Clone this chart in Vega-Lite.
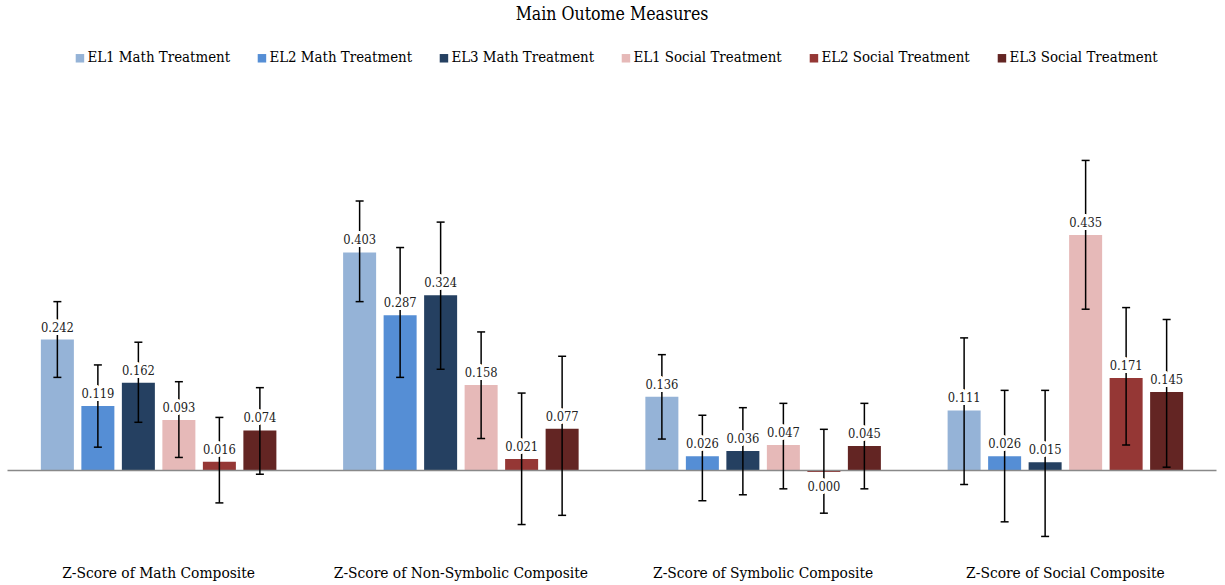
{
  "$schema": "https://vega.github.io/schema/vega-lite/v6.json",
  "width": 1209,
  "height": 422,
  "autosize": {"type": "none"},
  "padding": {"left": 7.5, "top": 135, "right": 8.5, "bottom": 28},
  "background": "white",
  "title": {"text": "Main Outome Measures", "font": "DejaVu Serif Condensed", "fontSize": 17.6, "fontWeight": "normal", "color": "#000", "anchor": "middle", "offset": 27},
  "config": {"view": {"stroke": null}},
  "data": {"values": [
    {"measure": "Z-Score of Math Composite", "series": "EL1 Math Treatment", "value": 0.242, "lo": 0.172, "hi": 0.312, "label": "0.242"},
    {"measure": "Z-Score of Math Composite", "series": "EL2 Math Treatment", "value": 0.119, "lo": 0.043, "hi": 0.195, "label": "0.119"},
    {"measure": "Z-Score of Math Composite", "series": "EL3 Math Treatment", "value": 0.162, "lo": 0.089, "hi": 0.237, "label": "0.162"},
    {"measure": "Z-Score of Math Composite", "series": "EL1 Social Treatment", "value": 0.093, "lo": 0.024, "hi": 0.164, "label": "0.093"},
    {"measure": "Z-Score of Math Composite", "series": "EL2 Social Treatment", "value": 0.016, "lo": -0.060, "hi": 0.098, "label": "0.016"},
    {"measure": "Z-Score of Math Composite", "series": "EL3 Social Treatment", "value": 0.074, "lo": -0.007, "hi": 0.153, "label": "0.074"},
    {"measure": "Z-Score of Non-Symbolic Composite", "series": "EL1 Math Treatment", "value": 0.403, "lo": 0.312, "hi": 0.498, "label": "0.403"},
    {"measure": "Z-Score of Non-Symbolic Composite", "series": "EL2 Math Treatment", "value": 0.287, "lo": 0.172, "hi": 0.412, "label": "0.287"},
    {"measure": "Z-Score of Non-Symbolic Composite", "series": "EL3 Math Treatment", "value": 0.324, "lo": 0.187, "hi": 0.459, "label": "0.324"},
    {"measure": "Z-Score of Non-Symbolic Composite", "series": "EL1 Social Treatment", "value": 0.158, "lo": 0.059, "hi": 0.256, "label": "0.158"},
    {"measure": "Z-Score of Non-Symbolic Composite", "series": "EL2 Social Treatment", "value": 0.021, "lo": -0.100, "hi": 0.143, "label": "0.021"},
    {"measure": "Z-Score of Non-Symbolic Composite", "series": "EL3 Social Treatment", "value": 0.077, "lo": -0.083, "hi": 0.211, "label": "0.077"},
    {"measure": "Z-Score of Symbolic Composite", "series": "EL1 Math Treatment", "value": 0.136, "lo": 0.058, "hi": 0.214, "label": "0.136"},
    {"measure": "Z-Score of Symbolic Composite", "series": "EL2 Math Treatment", "value": 0.026, "lo": -0.056, "hi": 0.102, "label": "0.026"},
    {"measure": "Z-Score of Symbolic Composite", "series": "EL3 Math Treatment", "value": 0.036, "lo": -0.045, "hi": 0.116, "label": "0.036"},
    {"measure": "Z-Score of Symbolic Composite", "series": "EL1 Social Treatment", "value": 0.047, "lo": -0.034, "hi": 0.124, "label": "0.047"},
    {"measure": "Z-Score of Symbolic Composite", "series": "EL2 Social Treatment", "value": -0.003, "lo": -0.079, "hi": 0.076, "label": "0.000"},
    {"measure": "Z-Score of Symbolic Composite", "series": "EL3 Social Treatment", "value": 0.045, "lo": -0.034, "hi": 0.124, "label": "0.045"},
    {"measure": "Z-Score of Social Composite", "series": "EL1 Math Treatment", "value": 0.111, "lo": -0.026, "hi": 0.245, "label": "0.111"},
    {"measure": "Z-Score of Social Composite", "series": "EL2 Math Treatment", "value": 0.026, "lo": -0.095, "hi": 0.148, "label": "0.026"},
    {"measure": "Z-Score of Social Composite", "series": "EL3 Math Treatment", "value": 0.015, "lo": -0.122, "hi": 0.148, "label": "0.015"},
    {"measure": "Z-Score of Social Composite", "series": "EL1 Social Treatment", "value": 0.435, "lo": 0.298, "hi": 0.573, "label": "0.435"},
    {"measure": "Z-Score of Social Composite", "series": "EL2 Social Treatment", "value": 0.171, "lo": 0.047, "hi": 0.301, "label": "0.171"},
    {"measure": "Z-Score of Social Composite", "series": "EL3 Social Treatment", "value": 0.145, "lo": 0.006, "hi": 0.279, "label": "0.145"}
  ]},
  "layer": [
    {
      "mark": {"type": "bar"},
      "encoding": {
        "x": {"field": "measure", "type": "nominal", "sort": ["Z-Score of Math Composite", "Z-Score of Non-Symbolic Composite", "Z-Score of Symbolic Composite", "Z-Score of Social Composite"],
              "scale": {"paddingInner": 0.196, "paddingOuter": 0.098},
              "axis": {"title": null, "domain": false, "ticks": false, "tickSize": 0, "labelAngle": 0, "labelPadding": 8, "labelFont": "DejaVu Serif Condensed", "labelFontSize": 15.4, "labelColor": "#000", "labelLimit": 0}},
        "xOffset": {"field": "series", "type": "nominal", "sort": ["EL1 Math Treatment", "EL2 Math Treatment", "EL3 Math Treatment", "EL1 Social Treatment", "EL2 Social Treatment", "EL3 Social Treatment"],
              "scale": {"paddingInner": 0.185, "paddingOuter": 0.0925}},
        "y": {"field": "value", "type": "quantitative", "scale": {"domain": [-0.16, 0.62], "nice": false, "zero": false}, "axis": null},
        "color": {"field": "series", "type": "nominal",
          "scale": {"domain": ["EL1 Math Treatment", "EL2 Math Treatment", "EL3 Math Treatment", "EL1 Social Treatment", "EL2 Social Treatment", "EL3 Social Treatment"],
                    "range": ["#95B3D7", "#558ED5", "#254061", "#E6B9B8", "#953735", "#632523"]},
          "legend": {"orient": "none", "legendX": 65, "legendY": -84.5, "direction": "horizontal", "columns": 6, "title": null,
                     "symbolType": "square", "symbolSize": 72, "symbolStrokeWidth": 0, "labelOffset": 0, "columnPadding": 24,
                     "labelFont": "DejaVu Serif Condensed", "labelFontSize": 14.9, "labelColor": "#000", "labelLimit": 0, "padding": 0}}
      }
    },
    {
      "data": {"values": [{"z": 0}]},
      "mark": {"type": "rule", "color": "#898989", "strokeWidth": 1.5},
      "encoding": {"y": {"field": "z", "type": "quantitative"}}
    },
    {
      "mark": {"type": "rule", "color": "#000", "strokeWidth": 1.5},
      "encoding": {
        "x": {"field": "measure", "type": "nominal", "sort": ["Z-Score of Math Composite", "Z-Score of Non-Symbolic Composite", "Z-Score of Symbolic Composite", "Z-Score of Social Composite"]},
        "xOffset": {"field": "series", "type": "nominal", "sort": ["EL1 Math Treatment", "EL2 Math Treatment", "EL3 Math Treatment", "EL1 Social Treatment", "EL2 Social Treatment", "EL3 Social Treatment"]},
        "y": {"field": "lo", "type": "quantitative"},
        "y2": {"field": "hi"}
      }
    },
    {
      "mark": {"type": "tick", "color": "#000", "thickness": 1.5, "size": 8, "opacity": 1},
      "encoding": {
        "x": {"field": "measure", "type": "nominal", "sort": ["Z-Score of Math Composite", "Z-Score of Non-Symbolic Composite", "Z-Score of Symbolic Composite", "Z-Score of Social Composite"]},
        "xOffset": {"field": "series", "type": "nominal", "sort": ["EL1 Math Treatment", "EL2 Math Treatment", "EL3 Math Treatment", "EL1 Social Treatment", "EL2 Social Treatment", "EL3 Social Treatment"]},
        "y": {"field": "lo", "type": "quantitative"}
      }
    },
    {
      "mark": {"type": "tick", "color": "#000", "thickness": 1.5, "size": 8, "opacity": 1},
      "encoding": {
        "x": {"field": "measure", "type": "nominal", "sort": ["Z-Score of Math Composite", "Z-Score of Non-Symbolic Composite", "Z-Score of Symbolic Composite", "Z-Score of Social Composite"]},
        "xOffset": {"field": "series", "type": "nominal", "sort": ["EL1 Math Treatment", "EL2 Math Treatment", "EL3 Math Treatment", "EL1 Social Treatment", "EL2 Social Treatment", "EL3 Social Treatment"]},
        "y": {"field": "hi", "type": "quantitative"}
      }
    },
    {
      "transform": [{"filter": "datum.value >= 0"}],
      "mark": {"type": "text", "font": "DejaVu Serif Condensed", "fontSize": 12.8, "baseline": "middle", "dy": -12, "fill": "white", "stroke": "white", "strokeWidth": 6, "strokeJoin": "round"},
      "encoding": {
        "x": {"field": "measure", "type": "nominal", "sort": ["Z-Score of Math Composite", "Z-Score of Non-Symbolic Composite", "Z-Score of Symbolic Composite", "Z-Score of Social Composite"]},
        "xOffset": {"field": "series", "type": "nominal", "sort": ["EL1 Math Treatment", "EL2 Math Treatment", "EL3 Math Treatment", "EL1 Social Treatment", "EL2 Social Treatment", "EL3 Social Treatment"]},
        "y": {"field": "value", "type": "quantitative"},
        "text": {"field": "label"}
      }
    },
    {
      "transform": [{"filter": "datum.value >= 0"}],
      "mark": {"type": "text", "font": "DejaVu Serif Condensed", "fontSize": 12.8, "baseline": "middle", "dy": -12, "color": "#222"},
      "encoding": {
        "x": {"field": "measure", "type": "nominal", "sort": ["Z-Score of Math Composite", "Z-Score of Non-Symbolic Composite", "Z-Score of Symbolic Composite", "Z-Score of Social Composite"]},
        "xOffset": {"field": "series", "type": "nominal", "sort": ["EL1 Math Treatment", "EL2 Math Treatment", "EL3 Math Treatment", "EL1 Social Treatment", "EL2 Social Treatment", "EL3 Social Treatment"]},
        "y": {"field": "value", "type": "quantitative"},
        "text": {"field": "label"}
      }
    },
    {
      "transform": [{"filter": "datum.value < 0"}],
      "mark": {"type": "text", "font": "DejaVu Serif Condensed", "fontSize": 12.8, "baseline": "middle", "dy": 15, "fill": "white", "stroke": "white", "strokeWidth": 6, "strokeJoin": "round"},
      "encoding": {
        "x": {"field": "measure", "type": "nominal", "sort": ["Z-Score of Math Composite", "Z-Score of Non-Symbolic Composite", "Z-Score of Symbolic Composite", "Z-Score of Social Composite"]},
        "xOffset": {"field": "series", "type": "nominal", "sort": ["EL1 Math Treatment", "EL2 Math Treatment", "EL3 Math Treatment", "EL1 Social Treatment", "EL2 Social Treatment", "EL3 Social Treatment"]},
        "y": {"field": "value", "type": "quantitative"},
        "text": {"field": "label"}
      }
    },
    {
      "transform": [{"filter": "datum.value < 0"}],
      "mark": {"type": "text", "font": "DejaVu Serif Condensed", "fontSize": 12.8, "baseline": "middle", "dy": 15, "color": "#222"},
      "encoding": {
        "x": {"field": "measure", "type": "nominal", "sort": ["Z-Score of Math Composite", "Z-Score of Non-Symbolic Composite", "Z-Score of Symbolic Composite", "Z-Score of Social Composite"]},
        "xOffset": {"field": "series", "type": "nominal", "sort": ["EL1 Math Treatment", "EL2 Math Treatment", "EL3 Math Treatment", "EL1 Social Treatment", "EL2 Social Treatment", "EL3 Social Treatment"]},
        "y": {"field": "value", "type": "quantitative"},
        "text": {"field": "label"}
      }
    }
  ]
}
